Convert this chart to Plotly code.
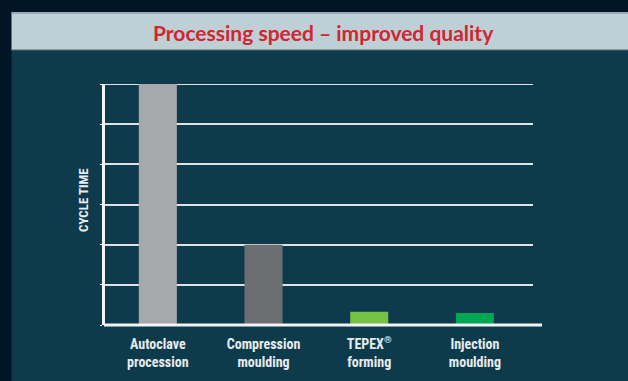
import plotly.graph_objects as go

# Cycle time per manufacturing process (relative units)
processes = ["Autoclave<br>procession", "Compression<br>moulding",
             "TEPEX<sup>®</sup><br>forming", "Injection<br>moulding"]
cycle_time = [6.0, 2.0, 0.33, 0.30]
bar_colors = ["#a7a8ab", "#6d6e71", "#76c043", "#00a651"]
positions = [0, 1, 2, 3]

W, H = 628, 381
L, R, T, B = 105, 533, 84, 325  # plot area in pixels

LABEL_FONT = "Roboto Condensed, Noto Sans Condensed, DejaVu Sans Condensed"


def px(x):
    return (x - L) / (R - L)


def py(y):
    return (B - y) / (B - T)


fig = go.Figure(
    go.Bar(
        x=positions,
        y=cycle_time,
        marker=dict(color=bar_colors, line=dict(width=0)),
        width=0.36,
        hoverinfo="skip",
    )
)

shapes = [
    # teal panel
    dict(type="rect", xref="paper", yref="paper", layer="below",
         x0=px(11.5), x1=px(640), y0=py(390), y1=py(50),
         fillcolor="#0e3b4c", line=dict(width=0)),
    # title band
    dict(type="rect", xref="paper", yref="paper", layer="below",
         x0=px(11.5), x1=px(640), y0=py(50), y1=py(12),
         fillcolor="#bfcfd6", line=dict(width=0)),
    dict(type="line", xref="paper", yref="paper", layer="below",
         x0=px(11.5), x1=px(640), y0=py(13), y1=py(13),
         line=dict(color="#8aa0aa", width=1.5)),
    dict(type="line", xref="paper", yref="paper", layer="below",
         x0=px(11.5), x1=px(640), y0=py(50), y1=py(50),
         line=dict(color="#4f6a77", width=1)),
    # top gridline at the end of the range
    dict(type="line", xref="paper", yref="y", layer="below",
         x0=0, x1=1, y0=6, y1=6,
         line=dict(color="#dfe3e6", width=2)),
    # baseline
    dict(type="line", xref="paper", yref="paper", layer="above",
         x0=px(104), x1=px(542), y0=py(325), y1=py(325),
         line=dict(color="#f2f4f5", width=3)),
]

fig.update_layout(
    width=W, height=H,
    margin=dict(l=L, r=W - R, t=T, b=H - B, autoexpand=False),
    paper_bgcolor="#011526",
    plot_bgcolor="rgba(0,0,0,0)",
    showlegend=False,
    shapes=shapes,
    annotations=[
        dict(text="<b>Processing speed – improved quality</b>",
             xref="paper", yref="paper", x=px(323), y=py(32),
             xanchor="center", yanchor="middle", showarrow=False,
             font=dict(family="Lato", size=21, color="#d12630")),
        dict(text="<b>CYCLE TIME</b>", textangle=-90,
             xref="paper", yref="paper", x=px(83), y=py(200),
             xanchor="center", yanchor="middle", showarrow=False,
             font=dict(family=LABEL_FONT, size=13, color="#e8ecee")),
    ],
    xaxis=dict(
        range=[-0.5, 3.55],
        tickvals=positions,
        ticktext=[f"<b>{p}</b>" for p in processes],
        tickfont=dict(family=LABEL_FONT, size=14, color="#e8ecee"),
        showgrid=False, zeroline=False, showline=False,
        ticks="", ticklabelstandoff=9, automargin=False, fixedrange=True,
    ),
    yaxis=dict(
        range=[0, 6],
        dtick=1,
        showticklabels=False,
        showgrid=True, gridcolor="#dfe3e6", gridwidth=2,
        zeroline=False,
        showline=True, linecolor="#f2f4f5", linewidth=2.5,
        ticks="outside", ticklen=2, tickcolor="#f2f4f5",
        automargin=False, fixedrange=True,
    ),
)

fig.write_html("out.html")
